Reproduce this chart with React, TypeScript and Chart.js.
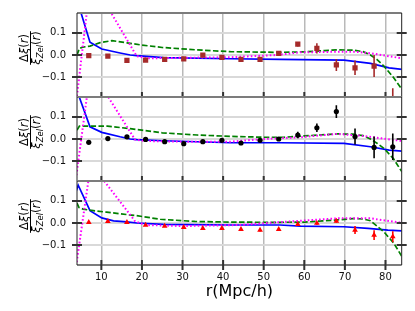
import React, { useEffect, useRef } from 'react';
import { Chart, registerables } from 'chart.js';

Chart.register(...registerables);

// ---------- data ----------
const rData = [6.9, 11.6, 16.3, 20.9, 25.6, 30.3, 35.0, 39.7, 44.4, 49.1, 53.7, 58.4, 63.1, 67.9, 72.5, 77.2, 81.8];

const squareVals = [-0.003, -0.005, -0.024, -0.023, -0.02, -0.018, -0.001, -0.011, -0.02, -0.02, 0.007, 0.049, 0.03, -0.045, -0.058, -0.05, -0.26];
const squareErrs = [0.004, 0.004, 0.004, 0.005, 0.005, 0.005, 0.006, 0.006, 0.007, 0.007, 0.008, 0.01, 0.023, 0.027, 0.033, 0.05, 0.11];

const circleVals = [-0.015, 0.002, 0.01, -0.002, -0.012, -0.021, -0.012, -0.006, -0.018, -0.006, 0.0, 0.018, 0.051, 0.124, 0.011, -0.038, -0.035];
const circleErrs = [0.004, 0.004, 0.004, 0.004, 0.005, 0.005, 0.005, 0.006, 0.006, 0.007, 0.008, 0.015, 0.019, 0.029, 0.036, 0.049, 0.06];

const triangleVals = [0.003, 0.008, 0.003, -0.009, -0.014, -0.02, -0.024, -0.024, -0.029, -0.032, -0.029, -0.006, -0.001, 0.009, -0.032, -0.055, -0.062];
const triangleErrs = [0.003, 0.003, 0.003, 0.004, 0.004, 0.004, 0.005, 0.005, 0.005, 0.006, 0.006, 0.006, 0.007, 0.008, 0.018, 0.022, 0.025];

const blue1R = [3.0, 4.3, 7.2, 10.1, 14.6, 17.1, 18.7, 25.3, 41.8, 54.0, 69.8, 76.3, 80.9, 84.5];
const blue1V = [0.31, 0.232, 0.058, 0.027, 0.009, 0.0, -0.003, -0.012, -0.017, -0.02, -0.023, -0.038, -0.058, -0.066];
const blue2R = [3.0, 4.3, 7.2, 10.1, 14.6, 17.1, 18.7, 25.3, 41.8, 54.0, 69.8, 76.3, 80.9, 84.5];
const blue2V = [0.269, 0.203, 0.055, 0.03, 0.01, 0.0, -0.003, -0.008, -0.017, -0.017, -0.02, -0.035, -0.05, -0.056];
const blue3R = [3.0, 4.3, 7.2, 10.1, 13.0, 16.3, 18.7, 25.3, 41.8, 54.0, 59.0, 69.8, 75.7, 80.6, 84.5];
const blue3V = [0.101, 0.171, 0.056, 0.023, 0.01, 0.005, 0.0, -0.006, -0.009, -0.009, -0.014, -0.017, -0.024, -0.032, -0.036];

const green1R = [4.0, 4.6, 5.5, 7.2, 9.7, 12.6, 16.3, 20.0, 25.0, 33.6, 41.8, 53.3, 59.9, 65.0, 68.1, 72.0, 74.5, 76.3, 78.0, 79.6, 81.9, 84.1];
const green1V = [0.0, 0.03, 0.036, 0.04, 0.056, 0.065, 0.055, 0.045, 0.034, 0.023, 0.015, 0.012, 0.014, 0.02, 0.023, 0.022, 0.015, 0.0, -0.022, -0.05, -0.1, -0.156];
const green2R = [4.0, 4.6, 7.2, 11.5, 17.1, 20.0, 25.0, 33.6, 41.8, 50.0, 55.0, 60.0, 68.1, 72.0, 74.5, 76.3, 78.0, 79.6, 82.0, 84.1];
const green2V = [0.04, 0.058, 0.058, 0.058, 0.047, 0.04, 0.028, 0.018, 0.012, 0.008, 0.008, 0.014, 0.023, 0.022, 0.015, 0.0, -0.02, -0.042, -0.09, -0.15];
const green3R = [4.0, 4.5, 5.5, 7.2, 11.3, 18.7, 24.5, 33.0, 41.8, 53.0, 60.0, 68.1, 72.0, 74.5, 76.3, 78.0, 79.6, 82.0, 84.1];
const green3V = [0.09, 0.07, 0.063, 0.058, 0.049, 0.033, 0.017, 0.007, 0.004, 0.003, 0.004, 0.014, 0.02, 0.018, 0.01, -0.015, -0.04, -0.09, -0.153];

const magenta1R = [3.0, 7.4, 18.7, 21.2, 24.5, 33.0, 41.8, 53.3, 59.0, 69.0, 73.0, 76.3, 80.0, 84.1];
const magenta1V = [-0.34, 0.346, -0.005, -0.015, -0.014, -0.012, -0.01, 0.0, 0.012, 0.015, 0.014, 0.008, -0.003, -0.015];
const magenta2R = [3.0, 7.35, 18.3, 20.8, 30.0, 41.8, 50.0, 53.3, 59.0, 68.0, 74.0, 79.0, 84.1];
const magenta2V = [-0.283, 0.317, -0.003, -0.009, -0.012, -0.012, 0.0, 0.003, 0.008, 0.023, 0.015, 0.003, -0.009];
const magenta3R = [3.0, 7.41, 18.3, 20.8, 30.0, 44.0, 53.3, 59.0, 68.0, 76.3, 79.0, 84.1];
const magenta3V = [-0.296, 0.269, 0.008, -0.009, -0.014, -0.009, 0.003, 0.01, 0.021, 0.021, 0.014, 0.001];

const xTickValues = [10, 20, 30, 40, 50, 60, 70, 80];
const yTickValues = [-0.1, 0, 0.1];
const xLimits = [4, 84];
const yLimits = [-0.19, 0.19];
const xTitle = 'r(Mpc/h)';

// ---------- helpers ----------
const pair = (rs: number[], vs: number[]) => rs.map((r, i) => ({ x: r, y: vs[i] }));
const fmtY = (v: number) => {
  const s = Math.abs(v).toFixed(1);
  return v < -1e-9 ? '\u2212' + s : s;
};

const FONT = '"DejaVu Sans", sans-serif';

const panels = [
  { axis: 'y1', vals: squareVals, errs: squareErrs, style: 'rect', radius: 3.7, color: '#a52a2a', blue: [blue1R, blue1V], green: [green1R, green1V], mag: [magenta1R, magenta1V] },
  { axis: 'y2', vals: circleVals, errs: circleErrs, style: 'circle', radius: 2.6, color: '#000000', blue: [blue2R, blue2V], green: [green2R, green2V], mag: [magenta2R, magenta2V] },
  { axis: 'y3', vals: triangleVals, errs: triangleErrs, style: 'triangle', radius: 3.3, color: '#ff0000', blue: [blue3R, blue3V], green: [green3R, green3V], mag: [magenta3R, magenta3V] },
];

function drawPieces(ctx: CanvasRenderingContext2D, pieces: [string, string, number][], baseline: number) {
  let total = 0;
  const widths = pieces.map(([t, f]) => { ctx.font = f; const w = ctx.measureText(t).width; total += w; return w; });
  let x = -total / 2;
  ctx.textAlign = 'left';
  ctx.textBaseline = 'alphabetic';
  pieces.forEach(([t, f, dy], i) => {
    ctx.font = f;
    ctx.fillText(t, x, baseline + dy);
    x += widths[i];
  });
  return total;
}

const panelPlugin = {
  id: 'panelPlugin',
  beforeDatasetDraw(chart: any, args: any) {
    const ds = chart.data.datasets[args.index];
    const ys = chart.scales[ds.yAxisID];
    const area = chart.chartArea;
    const ctx = chart.ctx;
    ctx.save();
    ctx.beginPath();
    ctx.rect(area.left, ys.top, area.right - area.left, ys.bottom - ys.top);
    ctx.clip();
    if (ds.errors) {
      const xs = chart.scales.x;
      ctx.strokeStyle = ds.borderColor;
      ctx.lineWidth = 1.6;
      ds.data.forEach((pt: any, i: number) => {
        const e = ds.errors[i];
        const px = xs.getPixelForValue(pt.x);
        ctx.beginPath();
        ctx.moveTo(px, ys.getPixelForValue(pt.y - e));
        ctx.lineTo(px, ys.getPixelForValue(pt.y + e));
        ctx.stroke();
      });
    }
  },
  afterDatasetDraw(chart: any) {
    chart.ctx.restore();
  },
  afterDatasetsDraw(chart: any) {
    const ctx = chart.ctx;
    const area = chart.chartArea;
    const xs = chart.scales.x;
    ctx.save();
    panels.forEach((p, idx) => {
      const ys = chart.scales[p.axis];
      ctx.fillStyle = '#7c7c7c';
      ctx.fillRect(area.left, ys.top - 1, area.right - area.left, 2);
      ctx.fillRect(area.left, ys.bottom - 1, area.right - area.left, 2);
      ctx.strokeStyle = '#222';
      ctx.lineWidth = 1;
      ctx.beginPath();
      ctx.moveTo(area.left, ys.top);
      ctx.lineTo(area.left, ys.bottom);
      ctx.moveTo(area.right, ys.top);
      ctx.lineTo(area.right, ys.bottom);
      ctx.stroke();
      ctx.strokeStyle = '#333';
      ctx.lineWidth = 2;
      ctx.beginPath();
      yTickValues.forEach((v) => {
        const py = ys.getPixelForValue(v);
        ctx.moveTo(area.left - 5, py);
        ctx.lineTo(area.left + 5, py);
        ctx.moveTo(area.right - 5, py);
        ctx.lineTo(area.right + 5, py);
      });
      xTickValues.forEach((v) => {
        const px = xs.getPixelForValue(v);
        ctx.moveTo(px, ys.bottom - 5);
        ctx.lineTo(px, idx === panels.length - 1 ? ys.bottom + 5 : ys.bottom);
      });
      ctx.stroke();
    });
    ctx.restore();
  },
  afterDraw(chart: any) {
    const ctx = chart.ctx;
    const area = chart.chartArea;
    ctx.save();
    ctx.fillStyle = '#000';
    ctx.font = '16px ' + FONT;
    ctx.textAlign = 'center';
    ctx.textBaseline = 'middle';
    ctx.fillText(xTitle, (area.left + area.right) / 2, 292);
    const num: [string, string, number][] = [
      ['\u0394', '11.5px ' + FONT, 0],
      ['\u03be', 'italic 11.5px ' + FONT, 0],
      ['(', '11.5px ' + FONT, 0],
      ['r', 'italic 11.5px ' + FONT, 0],
      [')', '11.5px ' + FONT, 0],
    ];
    const den: [string, string, number][] = [
      ['\u03be', 'italic 11.5px ' + FONT, 0],
      ['Zel', 'italic 8.5px ' + FONT, 2.2],
      ['(', '11.5px ' + FONT, 0],
      ['r', 'italic 11.5px ' + FONT, 0],
      [')', '11.5px ' + FONT, 0],
    ];
    panels.forEach((p) => {
      const ys = chart.scales[p.axis];
      const cy = (ys.top + ys.bottom) / 2 - 7;
      ctx.save();
      ctx.translate(30.5, cy);
      ctx.rotate(-Math.PI / 2);
      ctx.fillStyle = '#000';
      const w1 = drawPieces(ctx, num, -2.8);
      const w2 = drawPieces(ctx, den, 9.8);
      const w = Math.max(w1, w2);
      ctx.fillRect(-w / 2, -0.5, w, 1);
      ctx.restore();
    });
    ctx.restore();
  },
};

function yAxis() {
  return {
    type: 'linear',
    position: 'left',
    stack: 'panels',
    stackWeight: 1,
    min: yLimits[0],
    max: yLimits[1],
    afterBuildTicks: (s: any) => { s.ticks = yTickValues.map((v) => ({ value: v })); },
    afterFit: (s: any) => { s.width = 77; s.paddingTop = 0; s.paddingBottom = 0; },
    grid: { color: '#d9d9d9', lineWidth: 2, drawTicks: false },
    border: { display: false },
    ticks: { padding: 11, color: '#111', font: { family: FONT, size: 10 }, callback: (v: any) => fmtY(Number(v)) },
  };
}

export default function App() {
  const ref = useRef<HTMLCanvasElement | null>(null);
  useEffect(() => {
    if (!ref.current) return;
    const datasets: any[] = [];
    panels.forEach((p) => {
      datasets.push({
        type: 'line', data: pair(rData, p.vals), errors: p.errs, yAxisID: p.axis, xAxisID: 'x',
        showLine: false, pointStyle: p.style, pointRadius: p.radius,
        pointBackgroundColor: p.color, pointBorderColor: p.color, pointBorderWidth: 0,
        borderColor: p.color, backgroundColor: p.color, order: 0,
      });
      datasets.push({
        type: 'line', data: pair(p.mag[0], p.mag[1]), yAxisID: p.axis, xAxisID: 'x',
        borderColor: '#ff00ff', borderWidth: 2, borderDash: [1.6, 2.2], pointRadius: 0, tension: 0, fill: false, order: 1,
      });
      datasets.push({
        type: 'line', data: pair(p.green[0], p.green[1]), yAxisID: p.axis, xAxisID: 'x',
        borderColor: '#008000', borderWidth: 1.7, borderDash: [5.5, 2.4], pointRadius: 0, tension: 0, fill: false, order: 2,
      });
      datasets.push({
        type: 'line', data: pair(p.blue[0], p.blue[1]), yAxisID: p.axis, xAxisID: 'x',
        borderColor: '#0000ff', borderWidth: 1.7, pointRadius: 0, tension: 0, fill: false, order: 3,
      });
    });
    const chart = new Chart(ref.current, {
      type: 'line',
      data: { datasets },
      options: {
        animation: false,
        responsive: false,
        layout: { padding: { left: 0, right: 13.3, top: 13, bottom: 0 } },
        plugins: { legend: { display: false }, tooltip: { enabled: false } },
        scales: {
          x: {
            type: 'linear', position: 'bottom', min: xLimits[0], max: xLimits[1],
            afterBuildTicks: (s: any) => { s.ticks = xTickValues.map((v) => ({ value: v })); },
            afterFit: (s: any) => { s.height = 46; },
            grid: { color: '#b9b9b9', lineWidth: 1.5, drawTicks: false },
            border: { display: false },
            ticks: { padding: 6, maxRotation: 0, color: '#111', font: { family: FONT, size: 10 }, callback: (v: any) => String(v) },
          },
          y3: yAxis(),
          y2: yAxis(),
          y1: yAxis(),
        } as any,
      },
      plugins: [panelPlugin as any],
    } as any);
    return () => chart.destroy();
  }, []);
  return (
    <div style={{ position: 'fixed', left: 0, top: 0, width: 415, height: 311, background: '#fff' }}>
      <canvas ref={ref} width={415} height={311} />
    </div>
  );
}
